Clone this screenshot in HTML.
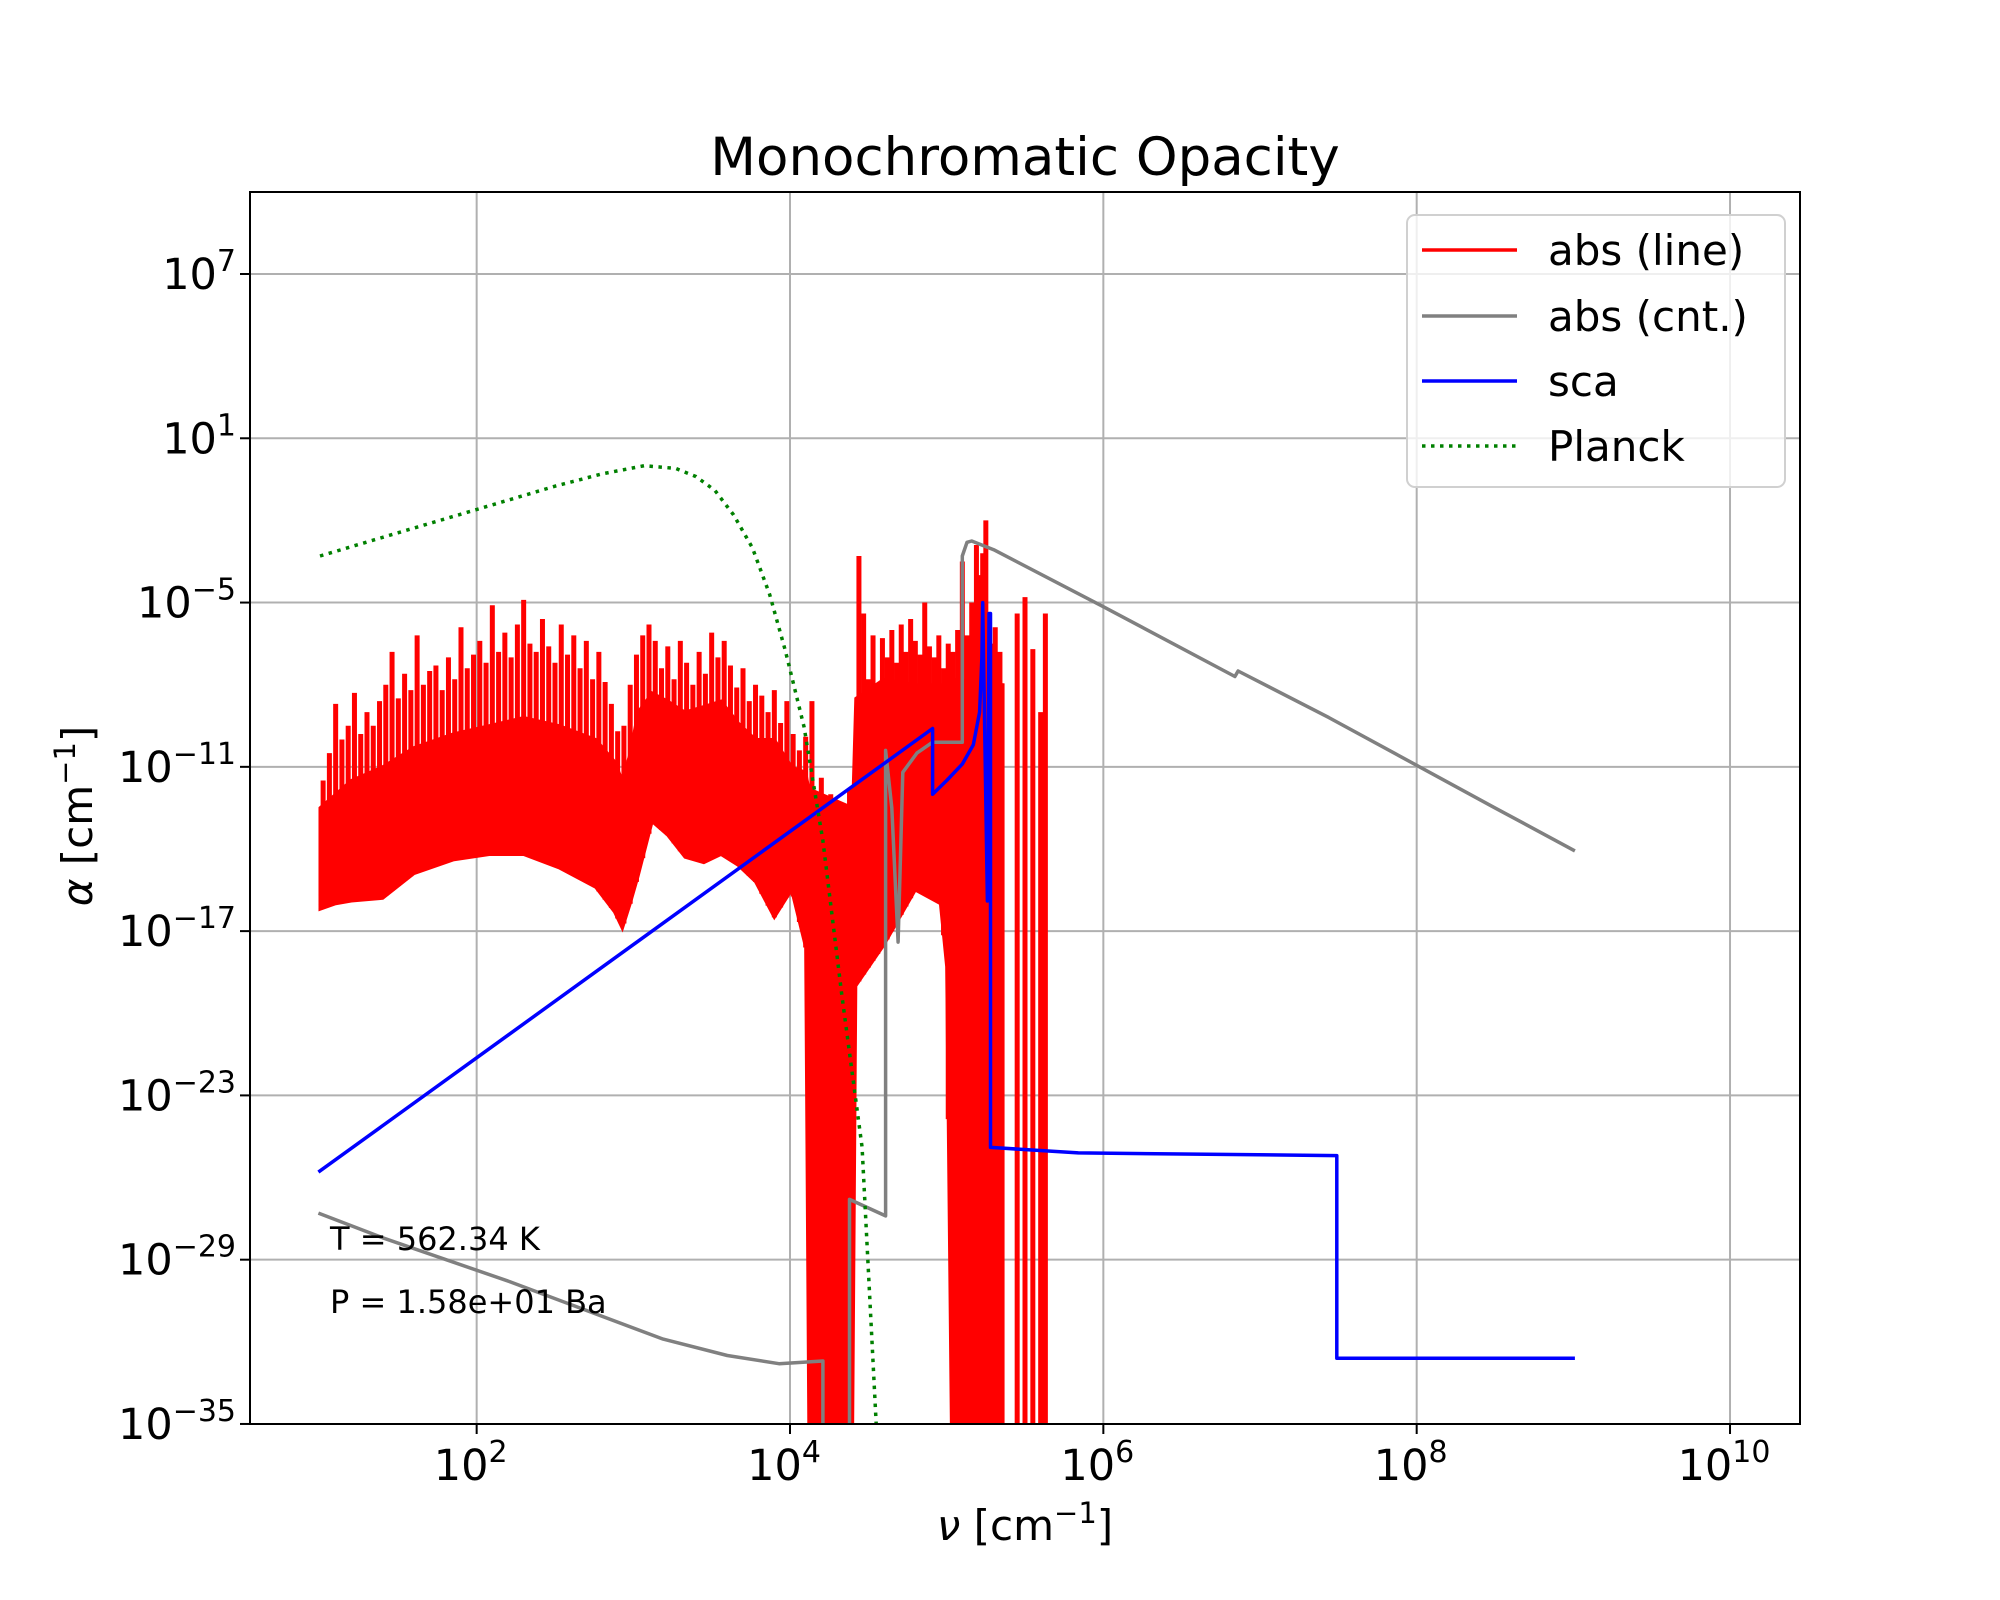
<!DOCTYPE html>
<html><head><meta charset="utf-8"><style>
html,body{margin:0;padding:0;background:#fff;}
svg{display:block;font-family:"DejaVu Sans","Liberation Sans",sans-serif;}
</style></head><body>
<svg id="chart" width="2000" height="1600" viewBox="0 0 2000 1600" xmlns="http://www.w3.org/2000/svg">
<rect x="0" y="0" width="2000" height="1600" fill="#fff"/>
<text x="1025" y="175" font-size="53" text-anchor="middle">Monochromatic Opacity</text>
<g id="grid"></g>
<g id="plot"></g>
<rect x="250" y="192" width="1550" height="1232" fill="none" stroke="#000" stroke-width="2"/>
<g id="ticks"></g>
<text x="1025" y="1540" font-size="42" text-anchor="middle"><tspan font-style="italic">ν</tspan> [cm<tspan dy="-17" font-size="29">−1</tspan><tspan dy="17">]</tspan></text>
<text transform="translate(92,816) rotate(-90)" font-size="42" text-anchor="middle"><tspan font-style="italic">α</tspan> [cm<tspan dy="-17" font-size="29">−1</tspan><tspan dy="17">]</tspan></text>
<text x="330" y="1250" font-size="32">T = 562.34 K</text>
<text x="330" y="1313" font-size="32">P = 1.58e+01 Ba</text>
<g>
<rect x="1407" y="215" width="378" height="272" rx="8" fill="#fff" fill-opacity="0.8" stroke="#d0d0d0" stroke-width="2"/>
<line x1="1422" y1="250" x2="1517" y2="250" stroke="#ff0000" stroke-width="3.5"/>
<text x="1548" y="265" font-size="42">abs (line)</text>
<line x1="1422" y1="316" x2="1517" y2="316" stroke="#808080" stroke-width="3.5"/>
<text x="1548" y="331" font-size="42">abs (cnt.)</text>
<line x1="1422" y1="381" x2="1517" y2="381" stroke="#0000ff" stroke-width="3.5"/>
<text x="1548" y="396" font-size="42">sca</text>
<line x1="1422" y1="446" x2="1517" y2="446" stroke="#008000" stroke-width="3.5" stroke-dasharray="3.5,5.5"/>
<text x="1548" y="461" font-size="42">Planck</text>
</g>
</svg>
<script>
// ---- data (log10 values) ----
const xTicks = [2, 4, 6, 8, 10];
const yTicks = [7, 1, -5, -11, -17, -23, -29, -35];
// red line-absorption envelope (dense core)
const redNu = [1.00,1.10,1.20,1.40,1.60,1.85,2.08,2.30,2.53,2.76,2.88,2.93,2.98,3.03,3.12,3.22,3.33,3.45,3.56,3.67,3.78,3.90,4.01,4.10,4.12,4.40,4.42,4.60,4.80,4.96,5.00,5.03,5.36];
const redLo = [-16.2,-16.0,-15.9,-15.8,-14.9,-14.4,-14.2,-14.2,-14.7,-15.4,-16.3,-16.9,-16.0,-15.0,-13.0,-13.5,-14.3,-14.5,-14.2,-14.6,-15.2,-16.5,-15.5,-17.6,-35,-35,-19.0,-17.5,-15.5,-16.0,-18.3,-35,-35];
const redHi = [-12.5,-12.0,-11.5,-11.0,-10.3,-9.8,-9.5,-9.2,-9.5,-10.0,-10.8,-11.5,-10.5,-9.0,-8.3,-8.6,-9.0,-8.8,-8.6,-9.4,-10.0,-10.0,-11.0,-11.2,-11.8,-12.5,-8.5,-7.8,-8.0,-8.0,-8.0,-7.8,-8.0];
// red line spikes (peak values)
const spikeNu  = [1.02,1.06,1.10,1.14,1.18,1.22,1.26,1.30,1.34,1.38,1.42,1.46,1.50,1.54,1.58,1.62,1.66,1.70,1.74,1.78,1.82,1.86,1.90,1.94,1.98,2.02,2.06,2.10,2.14,2.18,2.22,2.26,2.30,2.34,2.38,2.42,2.46,2.50,2.54,2.58,2.62,2.66,2.70,2.74,2.78,2.82,2.86,2.90,2.94,2.98,3.02,3.06,3.10,3.14,3.18,3.22,3.26,3.30,3.34,3.38,3.42,3.46,3.50,3.54,3.58,3.62,3.66,3.70,3.74,3.78,3.82,3.86,3.90,3.94,3.98,4.02,4.06,4.10,
  4.14,4.20,4.26,4.32,4.38,
  4.44,4.47,4.50,4.53,4.56,4.59,4.62,4.65,4.68,4.71,4.74,4.77,4.80,4.83,4.86,4.89,4.92,4.95,4.98,5.01,5.04,5.07,5.10,5.13,5.16,5.19,5.21,5.23,5.25,5.28,5.31,5.34,
  5.45,5.50,5.55,5.60,5.63];
const spikeTop = [-11.5,-10.5,-8.7,-10.0,-9.5,-8.3,-9.8,-9.0,-9.5,-8.6,-8.0,-6.8,-8.5,-7.6,-8.2,-6.2,-8.0,-7.5,-7.3,-8.2,-7.0,-7.8,-5.9,-7.4,-6.9,-6.4,-7.2,-5.1,-6.8,-6.1,-7.0,-5.8,-4.9,-6.5,-6.8,-5.6,-6.6,-7.2,-5.8,-6.9,-6.2,-7.4,-6.4,-7.8,-6.8,-7.9,-8.7,-9.7,-9.5,-8.0,-6.9,-6.2,-5.8,-6.4,-7.4,-6.6,-7.8,-6.4,-7.2,-8.0,-6.8,-7.6,-6.1,-7.0,-6.4,-7.3,-8.1,-7.4,-8.6,-8.0,-8.4,-9.0,-8.2,-9.4,-8.6,-9.8,-10.4,-9.9,
  -8.6,-11.4,-12.0,-12.6,-11.8,
  -3.3,-5.4,-7.8,-6.2,-8.4,-6.3,-7.0,-6.0,-7.2,-5.8,-6.8,-5.6,-6.4,-6.9,-5.0,-6.6,-7.0,-6.2,-7.4,-6.5,-6.8,-6.0,-3.5,-6.2,-5.0,-2.9,-4.0,-3.2,-2.0,-6.5,-5.9,-6.8,
  -5.4,-4.8,-6.7,-9.0,-5.4];
// continuum absorption
const cntNu = [0.99,1.40,2.21,3.19,3.60,3.93,4.21,4.21,null,4.38,4.38,4.61,4.61,4.65,4.69,4.72,4.81,4.91,5.10,5.10,5.13,5.16,5.30,6.00,6.84,6.86,7.44,8.50,9.01];
const cntAl = [-27.3,-28.2,-29.8,-31.9,-32.5,-32.8,-32.7,-35,null,-35,-26.8,-27.4,-10.4,-12.5,-17.4,-11.2,-10.5,-10.1,-10.1,-3.3,-2.8,-2.75,-3.07,-5.15,-7.7,-7.5,-9.2,-12.5,-14.07];
// scattering
const scaNu = [0.99,4.91,4.91,5.00,5.10,5.17,5.21,5.225,5.23,5.26,5.27,5.28,5.28,5.84,7.49,7.49,9.01];
const scaAl = [-25.8,-9.6,-12.0,-11.5,-10.9,-10.2,-9.0,-7.0,-5.0,-15.9,-5.4,-5.4,-24.9,-25.1,-25.2,-32.6,-32.6];
// Planck function
const plkNu = [1.00,1.50,2.00,2.50,2.80,3.07,3.27,3.40,3.52,3.64,3.76,3.87,3.97,4.09,4.21,4.33,4.46,4.55];
const plkAl = [-3.3,-2.45,-1.6,-0.75,-0.3,0.0,-0.1,-0.4,-0.9,-1.8,-3.0,-4.7,-6.75,-9.55,-13.7,-19.3,-24.9,-35];

// ---- axes ----
const X = lx => 790 + (lx - 4) * 156.67;
const Y = ly => 274 + (7 - ly) * 27.38;
const NS = 'http://www.w3.org/2000/svg';
function mk(tag, parent){ const e = document.createElementNS(NS, tag); parent.appendChild(e); return e; }
const grid = document.getElementById('grid'), plot = document.getElementById('plot'), ticks = document.getElementById('ticks');

xTicks.forEach(t => {
  const g = mk('line', grid);
  
  
  g.setAttribute('x1', X(t)); g.setAttribute('x2', X(t)); g.setAttribute('y1', 192); g.setAttribute('y2', 1424);
  g.setAttribute('stroke', '#b0b0b0'); g.setAttribute('stroke-width', '2');
  const tk = mk('line', ticks);
  
  
  tk.setAttribute('x1', X(t)); tk.setAttribute('x2', X(t)); tk.setAttribute('y1', 1424); tk.setAttribute('y2', 1434);
  tk.setAttribute('stroke', '#000'); tk.setAttribute('stroke-width', '2');
  const tx = mk('text', ticks);
  
  
  tx.setAttribute('x', X(t) - 6); tx.setAttribute('y', 1480); tx.setAttribute('font-size', '43'); tx.setAttribute('text-anchor', 'middle');
  tx.innerHTML = '10<tspan dy="-18" font-size="30">' + t + '</tspan>';
});
yTicks.forEach(t => {
  const g = mk('line', grid);
  
  
  g.setAttribute('x1', 250); g.setAttribute('x2', 1800); g.setAttribute('y1', Y(t)); g.setAttribute('y2', Y(t));
  g.setAttribute('stroke', '#b0b0b0'); g.setAttribute('stroke-width', '2');
  const tk = mk('line', ticks);
  
  
  tk.setAttribute('x1', 240); tk.setAttribute('x2', 250); tk.setAttribute('y1', Y(t)); tk.setAttribute('y2', Y(t));
  tk.setAttribute('stroke', '#000'); tk.setAttribute('stroke-width', '2');
  const tx = mk('text', ticks);
  
  
  tx.setAttribute('x', 236); tx.setAttribute('y', Y(t) + 15); tx.setAttribute('font-size', '43'); tx.setAttribute('text-anchor', 'end');
  tx.innerHTML = '10<tspan dy="-18" font-size="30">' + (t < 0 ? '−' + (-t) : t) + '</tspan>';
});

// ---- series ----
const clip = mk('clipPath', plot); clip.setAttribute('id', 'pc');
const cr = mk('rect', clip); cr.setAttribute('x', 250); cr.setAttribute('y', 192); cr.setAttribute('width', 1550); cr.setAttribute('height', 1232);
const pg = mk('g', plot); pg.setAttribute('clip-path', 'url(#pc)');

function loAt(n){
  if (n > redNu[redNu.length - 1] || n < redNu[0]) return -35;
  for (let i = 0; i < redNu.length - 1; i++) {
    if (n >= redNu[i] && n <= redNu[i + 1]) {
      const f = (n - redNu[i]) / (redNu[i + 1] - redNu[i] || 1);
      return redLo[i] + f * (redLo[i + 1] - redLo[i]);
    }
  }
  return -35;
}

// red band
let pts = [];
for (let i = 0; i < redNu.length; i++) pts.push(X(redNu[i]) + ',' + Y(redHi[i]));
for (let i = redNu.length - 1; i >= 0; i--) pts.push(X(redNu[i]) + ',' + Y(redLo[i]));
const band = mk('polygon', pg);


band.setAttribute('points', pts.join(' '));
band.setAttribute('fill', '#ff0000'); band.setAttribute('stroke', '#ff0000'); band.setAttribute('stroke-width', '3');
spikeNu.forEach((n, i) => {
  const s = mk('line', pg);
  
  
  s.setAttribute('x1', X(n)); s.setAttribute('x2', X(n)); s.setAttribute('y1', Y(spikeTop[i])); s.setAttribute('y2', Y(loAt(n)));
  s.setAttribute('stroke', '#ff0000'); s.setAttribute('stroke-width', '5');
});

function pathFrom(nu, al){
  let d = '', pen = false;
  for (let i = 0; i < nu.length; i++) {
    if (nu[i] === null) { pen = false; continue; }
    d += (pen ? 'L' : 'M') + X(nu[i]).toFixed(1) + ',' + Y(al[i]).toFixed(1);
    pen = true;
  }
  return d;
}
const cnt = mk('path', pg);


cnt.setAttribute('d', pathFrom(cntNu, cntAl));
cnt.setAttribute('fill', 'none'); cnt.setAttribute('stroke', '#808080'); cnt.setAttribute('stroke-width', '3.5'); cnt.setAttribute('stroke-linejoin', 'round');

const sca = mk('path', pg);


sca.setAttribute('d', pathFrom(scaNu, scaAl));
sca.setAttribute('fill', 'none'); sca.setAttribute('stroke', '#0000ff'); sca.setAttribute('stroke-width', '3.5'); sca.setAttribute('stroke-linejoin', 'round');

const plk = mk('path', pg);


plk.setAttribute('d', pathFrom(plkNu, plkAl));
plk.setAttribute('fill', 'none'); plk.setAttribute('stroke', '#008000'); plk.setAttribute('stroke-width', '3.5'); plk.setAttribute('stroke-dasharray', '3.5,5.5');
</script>
</body></html>
